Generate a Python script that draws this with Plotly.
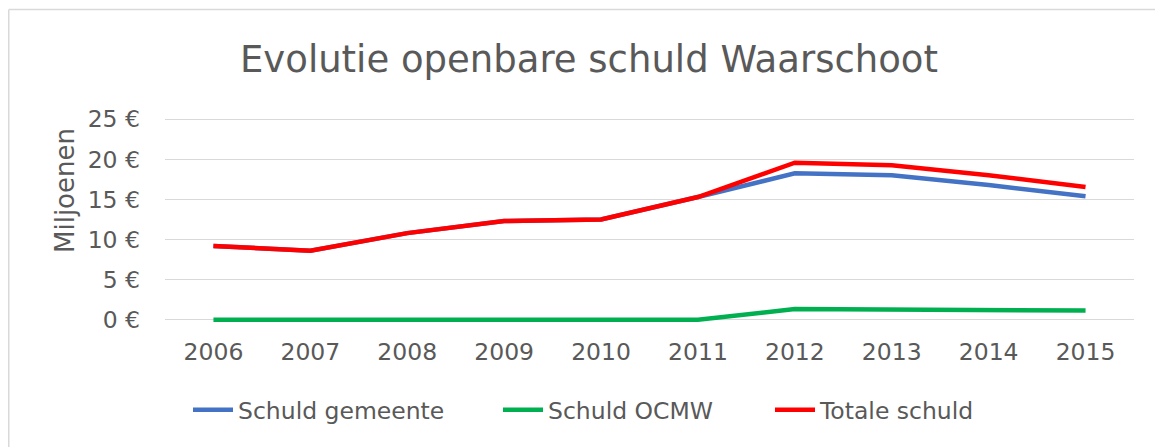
import plotly.graph_objects as go

years = ["2006", "2007", "2008", "2009", "2010", "2011", "2012", "2013", "2014", "2015"]
schuld_gemeente = [9.2, 8.6, 10.8, 12.3, 12.5, 15.3, 18.25, 18.0, 16.8, 15.4]
schuld_ocmw = [0.0, 0.0, 0.0, 0.0, 0.0, 0.0, 1.33, 1.27, 1.22, 1.16]
totale_schuld = [9.2, 8.6, 10.8, 12.3, 12.5, 15.3, 19.58, 19.27, 18.02, 16.56]
y_tickvals = [0, 5, 10, 15, 20, 25]
y_ticktext = ["0 €", "5 €", "10 €", "15 €", "20 €", "25 €"]

FONT = "DejaVu Sans"
GREY = "#595959"

fig = go.Figure()
fig.add_trace(go.Scatter(x=years, y=schuld_gemeente, mode="lines", name="Schuld gemeente",
                         line=dict(color="#4472C4", width=4.5), legendwidth=255))
fig.add_trace(go.Scatter(x=years, y=schuld_ocmw, mode="lines", name="Schuld OCMW",
                         line=dict(color="#00B050", width=4.5), legendwidth=217))
fig.add_trace(go.Scatter(x=years, y=totale_schuld, mode="lines", name="Totale schuld",
                         line=dict(color="#FF0000", width=4.5), legendwidth=165))

# page body has an 8px margin; coordinates below are in figure pixels
W, H = 1155, 439
L = 157
R = W - 1126
T = 108
B = H - 315
pw = W - L - R
ph = H - T - B

fig.update_layout(
    width=W, height=H,
    margin=dict(l=L, r=R, t=T, b=B),
    paper_bgcolor="white", plot_bgcolor="white",
    font=dict(family=FONT, color=GREY, size=23.5),
    title=dict(text="Evolutie openbare schuld Waarschoot", x=581 / W, xanchor="center",
               y=1 - 51 / H, yanchor="middle", yref="container",
               font=dict(family=FONT, size=37, color=GREY)),
    showlegend=True,
    legend=dict(orientation="h", x=(180 - L) / pw, xanchor="left", y=-(402 - (H - B)) / ph,
                yanchor="middle", font=dict(family=FONT, size=23.5, color=GREY),
                itemwidth=40, tracegroupgap=0),
    xaxis=dict(type="category", range=[-0.5, 9.5], showgrid=False, zeroline=False, showline=False,
               ticks="", tickfont=dict(family=FONT, size=23.5, color=GREY), ticklabelstandoff=12),
    yaxis=dict(range=[-0.4, 25.4], tickvals=y_tickvals, ticktext=y_ticktext, showgrid=True,
               gridcolor="#D9D9D9", gridwidth=1.3, zeroline=False, showline=False, ticks="",
               tickfont=dict(family=FONT, size=23.5, color=GREY), ticklabelstandoff=24),
    annotations=[dict(text="Miljoenen", xref="paper", yref="paper", x=(57 - L) / pw,
                      y=(H - B - 183) / ph, xanchor="center", yanchor="middle", textangle=-90,
                      showarrow=False, font=dict(family=FONT, size=26, color=GREY))],
    shapes=[
        dict(type="line", xref="paper", yref="paper", x0=(0.75 - L) / pw, x1=(0.75 - L) / pw,
             y0=(H - B - 1.5) / ph, y1=(H - B - 460) / ph, line=dict(color="#D9D9D9", width=1.5)),
        dict(type="line", xref="paper", yref="paper", x0=(0.75 - L) / pw, x1=(1170 - L) / pw,
             y0=(H - B - 1.5) / ph, y1=(H - B - 1.5) / ph, line=dict(color="#D9D9D9", width=1.5)),
    ],
)

fig.write_html("out.html")
